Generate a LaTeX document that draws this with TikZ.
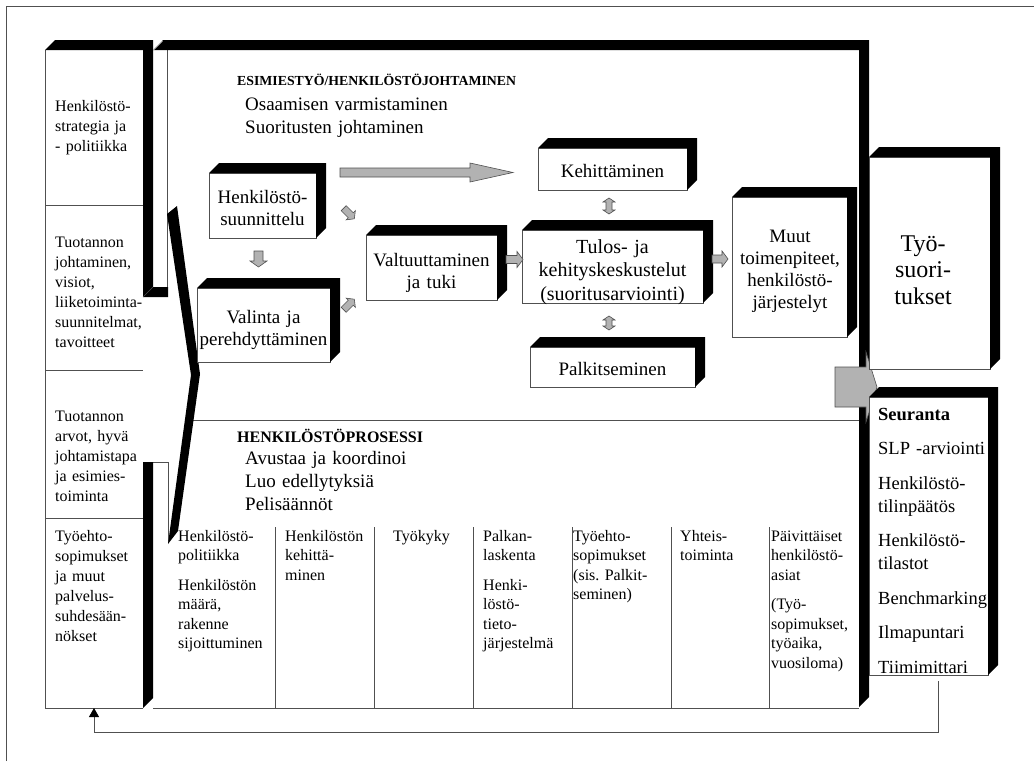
\documentclass[tikz,border=0pt]{standalone}
\usepackage{fontspec}
\setmainfont{Liberation Serif}
\usetikzlibrary{arrows.meta,calc}
\definecolor{edge}{RGB}{80,80,80}
\definecolor{agray}{RGB}{178,178,178}
\frenchspacing
\tikzset{
  frontbox/.style={draw=edge, line width=0.8pt, fill=white, inner sep=0pt, outer sep=0pt, rectangle},
  areanode/.style={inner sep=0pt, outer sep=0pt, rectangle},
  thinl/.style={draw=edge, line width=0.8pt},
  blockarrow/.style={fill=agray, draw=edge, line width=0.6pt},
  boxtxt/.style={font=\fontsize{19}{22}\selectfont, text width=200pt, align=center, inner sep=0pt, anchor=base},
  coltxt/.style={font=\fontsize{16}{19.5}\selectfont, text width=98pt, align=left, inner sep=0pt, anchor=base west},
  lefttxt/.style={font=\fontsize{16}{20}\selectfont, text width=98pt, align=left, inner sep=0pt, anchor=base west},
  headtxt/.style={font=\fontsize{19}{23}\selectfont, text width=260pt, align=left, inner sep=0pt, anchor=base west},
}
% 3D box: name, x1, y1, x2, y2
\newcommand\tdbox[5]{%
  \node[frontbox, minimum width={(#4)-(#2)}, minimum height={(#5)-(#3)}] (#1) at ({((#2)+(#4))/2},{((#3)+(#5))/2}) {};
  \fill (#1.north west) -- ++(10,-10) -| ([xshift=10pt,yshift=10pt]#1.south east) -- (#1.south east) -- (#1.north east) -- cycle;
}
% block arrow: cx, cy, angle, length, shaft width, head width, head length
\newcommand\barrow[7]{%
  \begin{scope}[shift={(#1,#2)}, rotate=#3]
    \path[blockarrow] ({-(#4)/2},{-(#5)/2}) -- ({(#4)/2-(#7)},{-(#5)/2}) -- ({(#4)/2-(#7)},{-(#6)/2}) -- ({(#4)/2},0) -- ({(#4)/2-(#7)},{(#6)/2}) -- ({(#4)/2-(#7)},{(#5)/2}) -- ({-(#4)/2},{(#5)/2}) -- cycle;
  \end{scope}}
% double block arrow
\newcommand\dbarrow[7]{%
  \begin{scope}[shift={(#1,#2)}, rotate=#3]
    \path[blockarrow] ({-(#4)/2},0) -- ({-(#4)/2+(#7)},{-(#6)/2}) -- ({-(#4)/2+(#7)},{-(#5)/2}) -- ({(#4)/2-(#7)},{-(#5)/2}) -- ({(#4)/2-(#7)},{-(#6)/2}) -- ({(#4)/2},0) -- ({(#4)/2-(#7)},{(#6)/2}) -- ({(#4)/2-(#7)},{(#5)/2}) -- ({-(#4)/2+(#7)},{(#5)/2}) -- ({-(#4)/2+(#7)},{(#6)/2}) -- cycle;
  \end{scope}}
\begin{document}
\begin{tikzpicture}[x=1pt,y=-1pt]
\useasboundingbox (0,0) rectangle (1034,761);
% outer frame
\draw[thinl] (6,761) -- (6,6) -- (1034,6);

% left column
\node[areanode, minimum width=98, minimum height=658] (lc) at (94,379) {};
\draw[thinl] (lc.north west) -- (lc.south west) -- (lc.south east);
\draw[thinl] (45,205) -- (143,205) (45,370) -- (143,370) (45,518) -- (143,518);

% main box
\node[areanode, minimum width=706, minimum height=658] (mb) at (506,379) {};
\draw[thinl] (mb.south west) -- (mb.south east);
\draw[thinl] (193,420) -- (859,420);
\foreach \x in {275,374,473,572,671,769} \draw[thinl] (\x,527) -- (\x,708);
\draw[thinl] (167,50) -- (167,287);
\draw[thinl] (143,462) -- (168,462) -- (168,543);

% black 3D faces of the large frames
\fill (45,50) -- (55,40) -- (153,40) -- (153,287) -- (168,287) -- (168,297) -- (143,297) -- (143,50) -- cycle;
\fill (153,50) -- (163,40) -- (869,40) -- (869,697) -- (859,707) -- (859,50) -- cycle;
\draw[white, line width=0.6pt] (153.5,50) -- (162.5,41);
\draw[edge, line width=0.5pt] (143,297) -- (153,287);
\fill (143,462) -- (153,462) -- (153,698) -- (143,708) -- cycle;
% chevron
\fill (177,206) -- (200,374) -- (178,531) -- (168,544) -- (191,375) -- (167,214) -- cycle;

% inner boxes
\tdbox{hs}{209}{173}{316}{238}
\tdbox{val}{197}{288}{330}{362}
\tdbox{vt}{366}{235}{497}{300}
\tdbox{keh}{538}{148}{687}{190}
\tdbox{tul}{522}{230}{703}{303}
\tdbox{pal}{530}{347}{695}{387}
\tdbox{muut}{732}{197}{847}{337}

% block arrows
\barrow{258.5}{259}{-90}{16}{9}{17}{6}
\barrow{349}{213.5}{-45}{15}{7}{13}{5}
\barrow{349}{304.5}{45}{15}{7}{13}{5}
\barrow{426.5}{172.5}{0}{173}{9}{19}{43}
\barrow{514.5}{259.5}{0}{17}{8}{16}{6}
\barrow{720}{259}{0}{16}{8}{16}{6}
\dbarrow{609}{206}{90}{16}{6}{12}{4}
\dbarrow{609}{323}{90}{14}{6}{12}{4}
\barrow{856}{387}{0}{42}{40}{70}{11}

% right boxes
\tdbox{tyo}{869}{157}{990}{369}
\tdbox{seur}{869}{397}{988}{675}

% header texts
\node[anchor=base west, inner sep=0pt, font=\fontsize{13.8}{16}\selectfont\bfseries] (h1) at (237,85) {ESIMIESTYÖ/HENKILÖSTÖJOHTAMINEN};
\node[headtxt] (h1b) at (245,110) {Osaamisen varmistaminen\\Suoritusten johtaminen};
\node[anchor=base west, inner sep=0pt, font=\fontsize{16}{19}\selectfont\bfseries] (h2) at (237,442) {HENKILÖSTÖPROSESSI};
\node[headtxt] (h2b) at (245,464) {Avustaa ja koordinoi\\Luo edellytyksiä\\Pelisäännöt};

% box texts
\node[boxtxt] (hs-t) at (262.5,203) {Henkilöstö-\\suunnittelu};
\node[boxtxt] (val-t) at (263.5,323) {Valinta ja\\perehdyttäminen};
\node[boxtxt] (vt-t) at (431.5,266) {Valtuuttaminen\\ja tuki};
\node[boxtxt] (keh-t) at (612.5,177) {Kehittäminen};
\node[boxtxt, font=\fontsize{20}{23.5}\selectfont] (tul-t) at (612.5,253) {Tulos- ja\\kehityskeskustelut\\(suoritusarviointi)};
\node[boxtxt] (pal-t) at (612.5,375) {Palkitseminen};
\node[boxtxt] (muut-t) at (790,242) {Muut\\toimenpiteet,\\henkilöstö-\\järjestelyt};
\node[boxtxt, font=\fontsize{24}{26.5}\selectfont] (tyo-t) at (923,251) {Työ-\\suori-\\tukset};

% left column texts
\node[lefttxt] (l1) at (55,111) {Henkilöstö-\\strategia ja\\- politiikka};
\node[lefttxt] (l2) at (55,247) {Tuotannon\\johtaminen,\\visiot,\\liiketoiminta-\\suunnitelmat,\\tavoitteet};
\node[lefttxt] (l3) at (55,421) {Tuotannon\\arvot, hyvä\\johtamistapa\\ja esimies-\\toiminta};
\node[lefttxt] (l4) at (55,541) {Työehto-\\sopimukset\\ja muut\\palvelus-\\suhdesään-\\nökset};

% column texts
\node[coltxt] (c1) at (178,541) {Henkilöstö-\\politiikka\\[10pt]Henkilöstön\\määrä,\\rakenne\\sijoittuminen};
\node[coltxt] (c2) at (285,541) {Henkilöstön\\kehittä-\\minen};
\node[coltxt] (c3) at (393,541) {Työkyky};
\node[coltxt] (c4) at (483,541) {Palkan-\\laskenta\\[10pt]Henki-\\löstö-\\tieto-\\järjestelmä};
\node[coltxt] (c5) at (573,541) {Työehto-\\sopimukset\\(sis. Palkit-\\seminen)};
\node[coltxt] (c6) at (680,541) {Yhteis-\\toiminta};
\node[coltxt] (c7) at (771,541) {Päivittäiset\\henkilöstö-\\asiat\\[10pt](Työ-\\sopimukset,\\työaika,\\vuosiloma)};

% Seuranta texts
\node[coltxt, font=\fontsize{18.5}{23}\selectfont, text width=120pt] (s-t) at (878,420) {\textbf{Seuranta}\\[11.5pt]SLP -arviointi\\[11.5pt]Henkilöstö-\\tilinpäätös\\[11.5pt]Henkilöstö-\\tilastot\\[11.5pt]Benchmarking\\[11.5pt]Ilmapuntari\\[11.5pt]Tiimimittari};

% feedback connector
\coordinate (fb) at ($(seur.south)+(9.5,6)$);
\draw[thinl, -{Triangle[width=10pt,length=9pt,black]}] (fb) |- ($(lc.south)+(0,24)$) -- (lc.south);
\end{tikzpicture}
\end{document}
